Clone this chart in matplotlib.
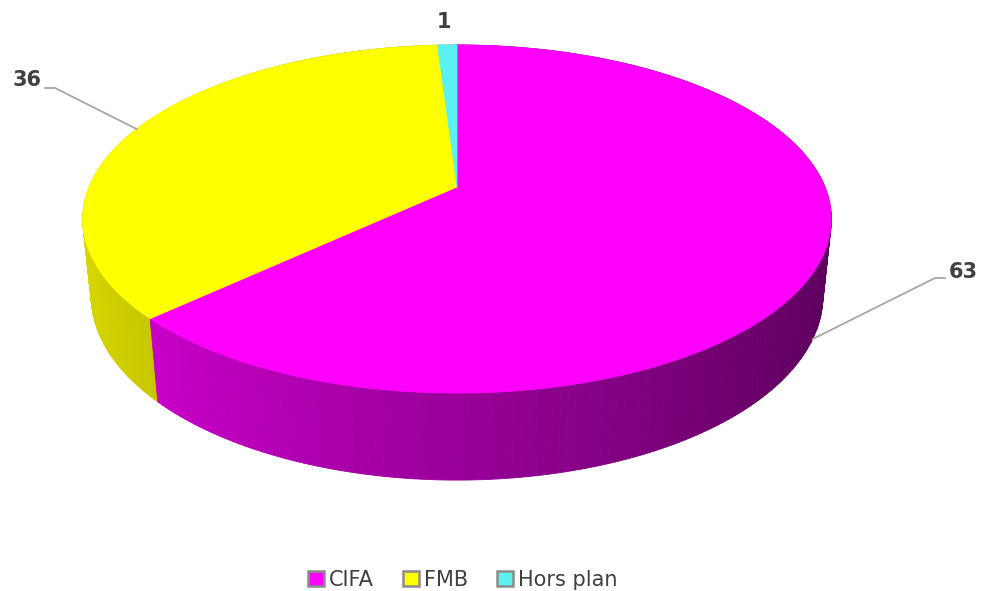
import numpy as np
import matplotlib.pyplot as plt
from matplotlib.patches import Polygon, Patch
from matplotlib.colors import to_rgb

categories = ["CIFA", "FMB", "Hors plan"]
values = [63, 36, 1]
colors = ["#FF00FF", "#FFFF00", "#5CF2F2"]

# simple perspective camera, result in pixel coords
CX, CY = 457, 187
F, D = 1779, 4.835
TILT = np.radians(27.2)
H = 0.237


def project(x, y, z):
    v = y * np.sin(TILT) + z * np.cos(TILT)
    w = D + y * np.cos(TILT) - z * np.sin(TILT)
    return CX + F * x / w, CY - F * v / w


def shade(c, x):
    k = 0.6 - 0.25 * x
    return tuple(min(1, ch * k) for ch in to_rgb(c))


def main() -> None:
    fig = plt.figure(figsize=(9.81, 5.91), dpi=100)
    ax = fig.add_axes([0, 0, 1, 1])
    ax.set_xlim(0, 981)
    ax.set_ylim(591, 0)
    ax.axis("off")

    total = sum(values)
    bounds = np.cumsum([0] + values) / total * 2 * np.pi

    # side walls, far segments first
    segs = []
    for i, c in enumerate(colors):
        n = max(2, int(np.degrees(bounds[i + 1] - bounds[i])))
        th = np.linspace(bounds[i], bounds[i + 1], n + 1)
        for a, b in zip(th[:-1], th[1:]):
            segs.append((np.cos((a + b) / 2), a, b, c))
    segs.sort(key=lambda s: -s[0])
    for _, a, b, c in segs:
        pts = [project(np.sin(a), np.cos(a), 0), project(np.sin(b), np.cos(b), 0),
               project(np.sin(b), np.cos(b), -H), project(np.sin(a), np.cos(a), -H)]
        col = shade(c, np.sin((a + b) / 2))
        ax.add_patch(Polygon(pts, closed=True, facecolor=col, edgecolor=col, lw=0.6))

    # top faces
    for i, c in enumerate(colors):
        th = np.linspace(bounds[i], bounds[i + 1], 200)
        pts = [project(0, 0, 0)] + [project(np.sin(t), np.cos(t), 0) for t in th]
        ax.add_patch(Polygon(pts, closed=True, facecolor=c, edgecolor=c, lw=0.5))

    # data labels
    mids = (bounds[:-1] + bounds[1:]) / 2
    lab = dict(fontsize=15, fontweight="bold", color="#404040")
    # 63
    x0, y0 = project(np.sin(mids[0]), np.cos(mids[0]), -H)
    ax.plot([x0, 935, 945], [y0, 278, 278], color="#A6A6A6", lw=1.3)
    ax.text(949, 272, str(values[0]), ha="left", va="center", **lab)
    # 36
    x1, y1 = project(np.sin(mids[1]), np.cos(mids[1]), 0)
    ax.plot([x1, 55, 45], [y1, 88, 88], color="#A6A6A6", lw=1.3)
    ax.text(42, 80, str(values[1]), ha="right", va="center", **lab)
    # 1
    x2, _ = project(np.sin(mids[2]), np.cos(mids[2]), 0)
    ax.text(x2 - 3, 22, str(values[2]), ha="center", va="center", **lab)

    handles = [Patch(facecolor=c, edgecolor="#8C8C8C", lw=1.8) for c in colors]
    fig.legend(handles, categories, loc="lower center", bbox_to_anchor=(0.472, -0.03),
               ncol=3, frameon=False, fontsize=15, handlelength=0.75, handleheight=0.75,
               handletextpad=0.25, columnspacing=1.4, labelcolor="#404040")

    fig.savefig("out.png", dpi=100)


if __name__ == "__main__":
    main()
